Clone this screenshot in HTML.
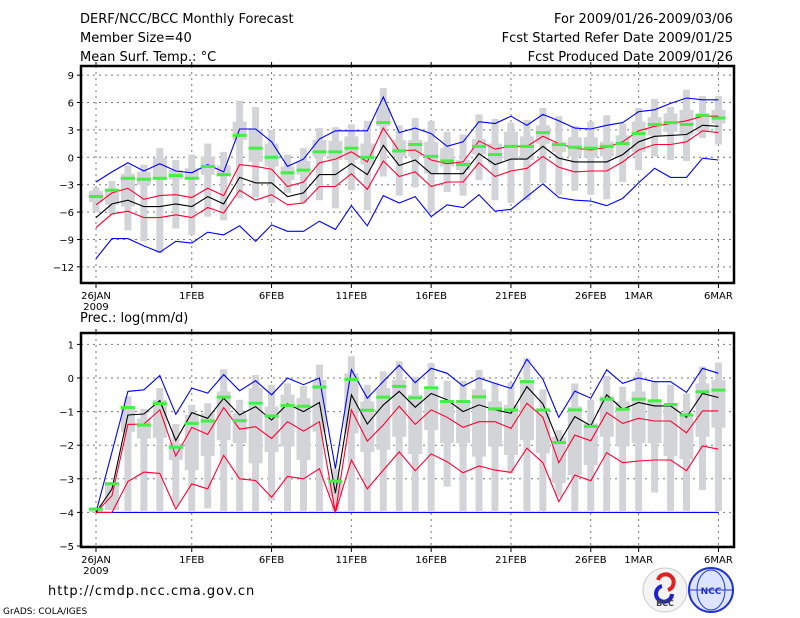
<!DOCTYPE html>
<html><head><meta charset="utf-8">
<style>
html,body{margin:0;padding:0;background:#fff;}
#wrap{position:relative;width:800px;height:618px;overflow:hidden;font-family:"DejaVu Sans","Liberation Sans",sans-serif;}
svg text{font-family:"DejaVu Sans","Liberation Sans",sans-serif;}
</style></head>
<body>
<div id="wrap">
<svg id="chart" width="800" height="618" viewBox="0 0 800 618" xmlns="http://www.w3.org/2000/svg">
<text x="80" y="23" font-size="13">DERF/NCC/BCC Monthly Forecast</text>
<text x="80" y="42" font-size="13">Member Size=40</text>
<text x="80" y="61" font-size="13">Mean Surf. Temp.: °C</text>
<text x="733" y="23" font-size="13" text-anchor="end">For 2009/01/26-2009/03/06</text>
<text x="733" y="42" font-size="13" text-anchor="end">Fcst Started Refer Date 2009/01/25</text>
<text x="733" y="61" font-size="13" text-anchor="end">Fcst Produced Date 2009/01/26</text>
<text x="80" y="322" font-size="13">Prec.: log(mm/d)</text>
<text x="48" y="595" font-size="13" letter-spacing="1">http://cmdp.ncc.cma.gov.cn</text>
<text x="3" y="614" font-size="9">GrADS: COLA/IGES</text>
<g>
<circle cx="665" cy="590" r="22" fill="#f4f4f4" stroke="#ccc"/>
<path d="M658 580 a8 8 0 1 1 10 10" stroke="#d22" stroke-width="4" fill="none"/>
<path d="M672 594 a8 8 0 1 1 -10 -8" stroke="#22c" stroke-width="4" fill="none"/>
<text x="665" y="606" font-size="8" font-weight="bold" text-anchor="middle" fill="#444">BCC</text>
</g>
<g>
<circle cx="711" cy="590" r="22" fill="#dde4ff" stroke="#23c" stroke-width="2"/>
<ellipse cx="711" cy="590" rx="14" ry="20" fill="none" stroke="#23c"/>
<line x1="689" y1="590" x2="733" y2="590" stroke="#23c"/>
<text x="711" y="594" font-size="9" font-weight="bold" text-anchor="middle" fill="#23c">NCC</text>
</g>
</svg>
</div>
<script>
// x axis: days since 26JAN 2009
const dateTicks = [0,6,11,16,21,26,31,34,39];
const dateLabels = ["26JAN","1FEB","6FEB","11FEB","16FEB","21FEB","26FEB","1MAR","6MAR"];

// ---- Temperature panel data ----
const tTicks = [9,6,3,0,-3,-6,-9,-12];
const tBlueUp = [-2.7,-1.6,-0.6,-1.5,-0.7,-1.5,-1.7,-0.8,-1.6,3.1,3.1,1.7,-1.0,-0.2,2.0,2.9,2.9,2.9,6.6,2.7,3.2,2.6,1.2,1.7,3.9,3.7,4.5,3.5,4.7,4.0,3.2,3.1,3.5,3.8,5.0,5.2,5.9,6.5,6.3,6.3];
const tRedUp = [-5.2,-3.9,-3.4,-4.6,-4.2,-4.1,-4.4,-3.4,-4.2,-0.8,-1.0,-1.3,-3.2,-2.7,-0.6,-0.2,0.6,-0.5,3.2,0.7,0.8,-0.3,-0.7,-0.5,1.8,0.9,1.2,1.2,2.3,1.5,1.0,0.8,1.1,1.7,2.9,3.4,3.7,4.0,4.5,4.5];
const tMean = [-6.6,-5.1,-4.7,-5.4,-5.4,-5.1,-5.4,-4.3,-5.1,-2.2,-2.8,-2.8,-4.3,-3.9,-1.9,-1.9,-0.7,-1.9,1.3,-0.9,-0.3,-1.8,-1.8,-1.8,0.4,-0.8,-0.2,-0.2,1.2,-0.1,-0.5,-0.5,-0.5,0.3,1.7,2.3,2.4,2.5,3.5,3.4];
const tRedLo = [-7.7,-6.2,-5.9,-6.6,-6.6,-6.3,-6.6,-5.5,-6.1,-3.6,-4.7,-4.1,-5.2,-5.0,-3.2,-3.2,-1.8,-3.5,-0.4,-2.1,-1.6,-3.2,-2.7,-2.7,-0.6,-2.1,-1.5,-1.2,0.1,-1.1,-1.6,-1.5,-1.5,-0.5,0.8,1.4,1.4,1.7,2.9,2.7];
const tBlueLo = [-11.1,-8.9,-8.9,-9.7,-10.4,-9.2,-9.4,-8.2,-8.5,-7.5,-9.2,-7.4,-8.1,-8.1,-7.0,-7.9,-5.3,-7.5,-4.2,-5.0,-4.3,-6.5,-5.2,-5.5,-4.1,-5.9,-5.7,-4.3,-2.9,-4.4,-4.7,-4.8,-5.3,-4.5,-2.8,-1.2,-2.2,-2.2,-0.1,-0.3];
const tGreen = [-4.3,-3.6,-2.3,-2.4,-2.3,-2.0,-2.3,-1.0,-1.9,2.4,1.0,0.0,-1.7,-1.4,0.6,0.6,1.0,0.0,3.8,0.7,1.4,0.1,-0.4,-0.8,1.2,0.3,1.2,1.2,2.7,1.4,1.1,1.0,1.2,1.5,2.6,3.6,3.8,3.6,4.6,4.3];
const tOutMin = [-6.0,-6.3,-8.0,-9.2,-10.5,-7.8,-8.5,-6.5,-6.9,-4.5,-4.4,-5.0,-3.9,-5.0,-4.7,-5.6,-3.6,-5.8,-2.1,-4.2,-3.3,-5.9,-3.8,-4.2,-2.5,-4.7,-5.0,-4.7,-2.8,-4.1,-3.7,-4.1,-4.6,-2.7,-1.4,0.1,-0.3,-0.4,2.1,1.4];
const tOutMax = [-3.3,-2.6,-0.9,-0.8,1.0,-0.3,0.3,1.5,0.6,6.2,5.5,3.0,0.3,1.0,3.2,3.3,3.6,4.0,7.6,3.5,4.3,4.0,2.8,2.5,4.7,4.2,3.8,4.1,5.4,4.5,3.4,3.9,4.6,3.7,5.4,6.4,5.5,7.4,6.7,6.7];
const tInMin = [-4.9,-5.2,-5.4,-3.0,-2.3,-2.4,-2.4,-1.9,-2.1,1.9,-0.5,-1.0,-2.5,-1.9,0.1,-0.3,-0.3,-0.8,3.4,0.1,0.1,-1.8,-1.0,-1.4,0.3,-0.7,-0.3,-0.3,1.5,0.6,0.1,0.0,0.1,0.1,0.6,2.4,2.8,2.4,2.8,3.7];
const tInMax = [-3.7,-3.5,-1.8,-1.6,-0.1,-1.4,-1.2,0.1,-0.9,3.9,3.0,1.5,-1.0,-0.4,1.9,1.8,2.3,1.5,5.4,1.9,1.9,1.7,1.0,-0.3,2.0,1.5,2.8,2.3,3.5,1.7,2.2,2.2,1.7,2.4,3.9,4.4,4.8,5.2,4.8,5.2];

// ---- Precipitation panel data ----
const pTicks = [1,0,-1,-2,-3,-4,-5];
const pBlueUp = [-4,-2.2,-0.4,-0.35,0.07,-1.08,-0.3,-0.45,0.1,-0.38,-0.08,-0.5,0,-0.2,0,-2.7,0.25,-0.6,-0.1,0.38,-0.14,0.29,0.14,-0.24,0,-0.16,-0.31,0.56,-0.04,-1.17,-0.39,-0.6,0.24,-0.16,0,-0.11,-0.11,-0.43,0.29,0.14];
const pRedUp = [-4,-3.5,-1.38,-1.37,-0.95,-2.32,-1.47,-1.68,-0.88,-1.52,-1.45,-1.8,-1.3,-1.58,-1.3,-4,-0.95,-1.88,-1.4,-0.84,-1.38,-0.95,-1.17,-1.47,-1.3,-1.3,-1.5,-0.75,-1.17,-2.52,-1.7,-1.87,-1.03,-1.35,-1.2,-1.28,-1.28,-1.63,-0.98,-0.98];
const pMean = [-4,-3.3,-1.1,-1.07,-0.67,-1.86,-1.03,-1.2,-0.6,-1.1,-0.85,-1.25,-0.77,-1.0,-0.73,-3.43,-0.5,-1.37,-0.8,-0.4,-0.87,-0.46,-0.65,-1.0,-0.8,-0.95,-1.05,-0.26,-0.77,-1.94,-1.15,-1.42,-0.5,-0.93,-0.73,-0.83,-0.83,-1.17,-0.46,-0.58];
const pRedLo = [-4,-4,-3.08,-2.8,-2.84,-3.9,-3.15,-3.3,-2.3,-3.0,-3.05,-3.55,-2.93,-3.0,-2.7,-4,-2.44,-3.3,-2.74,-2.2,-2.76,-2.26,-2.49,-2.82,-2.62,-2.74,-2.81,-2.09,-2.52,-3.68,-2.89,-3.06,-2.22,-2.52,-2.47,-2.44,-2.44,-2.76,-2.02,-2.12];
const pBlueLo = [-4,-4,-4,-4,-4,-4,-4,-4,-4,-4,-4,-4,-4,-4,-4,-4,-4,-4,-4,-4,-4,-4,-4,-4,-4,-4,-4,-4,-4,-4,-4,-4,-4,-4,-4,-4,-4,-4,-4,-4];
const pGreen = [-3.9,-3.15,-0.88,-1.4,-0.76,-2.06,-1.35,-1.28,-0.57,-1.27,-0.75,-1.13,-0.82,-0.84,-0.27,-3.07,-0.04,-0.96,-0.57,-0.25,-0.59,-0.29,-0.7,-0.7,-0.56,-0.92,-0.95,-0.11,-0.95,-1.92,-0.95,-1.44,-0.63,-0.93,-0.63,-0.68,-0.79,-1.1,-0.41,-0.36];
const pOutMin = [-4,-3.93,-3.96,-3.96,-3.96,-3.8,-3.96,-3.88,-3.96,-3.96,-3.96,-3.65,-3.96,-3.96,-3.96,-3.96,-3.96,-3.96,-3.96,-3.96,-3.96,-3.96,-3.23,-3.96,-3.96,-3.96,-2.84,-3.96,-3.96,-3.53,-3.96,-3.96,-3.96,-3.96,-3.96,-3.41,-3.96,-3.96,-3.33,-3.96];
const pOutMax = [-3.95,-3.1,-0.55,-0.92,-0.3,-1.37,-0.8,-0.75,0.26,-0.65,0.09,-0.2,-0.16,-0.24,0.4,-2.7,0.65,-0.2,0.2,0.5,0.04,0.44,-0.08,-0.08,0.24,-0.14,-0.14,0.58,-0.34,-1.55,-0.16,-0.65,0.06,-0.26,0.19,-0.11,-0.2,-0.46,0.34,0.46];
const pInMin = [-4,-3.93,-1.6,-1.8,-1.78,-2.44,-2.74,-2.32,-1.85,-1.94,-2.54,-2.2,-2.04,-2.44,-1.6,-3.53,-1.65,-2.2,-2.14,-1.75,-2.26,-1.55,-1.94,-1.94,-2.34,-2.04,-2.29,-1.85,-2.24,-3.13,-2.89,-2.59,-1.75,-2.04,-1.94,-1.94,-2.32,-2.42,-1.75,-1.48];
const pInMax = [-3.95,-3.1,-0.83,-1.2,-0.65,-1.94,-1.1,-1.05,-0.4,-1.05,-0.3,-0.85,-0.5,-0.6,-0.06,-3.04,0.14,-0.7,-0.3,-0.06,-0.5,-0.26,-0.65,-0.75,-0.34,-0.7,-0.8,-0.06,-1.05,-1.75,-0.85,-1.35,-0.54,-0.7,-0.4,-0.7,-0.75,-1.1,-0.16,-0.06];

const NS = "http://www.w3.org/2000/svg";
const svg = document.getElementById('chart');
function mk(tag, attrs, parent){
  const e = document.createElementNS(NS, tag);
  for (const k in attrs) e.setAttribute(k, attrs[k]);
  (parent||svg).appendChild(e);
  return e;
}
const X0 = 96, DX = 15.96;
function xScale(d){ return X0 + DX*d; }

function panel(cfg){
  const g = mk('g', {});
  
  
  const yS = v => cfg.y0 + (cfg.v0 - v) * cfg.k;
  cfg.ticks.forEach(t => {
    const y = yS(t);
    const gl = mk('line', {x1:cfg.left, x2:cfg.right, y1:y, y2:y, stroke:'#777', 'stroke-width':1, 'stroke-dasharray':'2,4'}, g);
    
    
    mk('line', {x1:cfg.left-4, x2:cfg.left, y1:y, y2:y, stroke:'#000'}, g);
    const tl = mk('text', {x:cfg.left-7, y:y+4, 'font-size':10, 'text-anchor':'end'}, g);
    tl.textContent = String(t).replace('-', '\u2212');
    
    
  });
  dateTicks.forEach((d,i) => {
    const x = xScale(d);
    const vl = mk('line', {x1:x, x2:x, y1:cfg.top, y2:cfg.bottom, stroke:'#777', 'stroke-width':1, 'stroke-dasharray':'2,4'}, g);
    
    
    mk('line', {x1:x, x2:x, y1:cfg.bottom, y2:cfg.bottom+5, stroke:'#000'}, g);
    mk('line', {x1:x, x2:x, y1:cfg.top, y2:cfg.top-4, stroke:'#000'}, g);
    const tx = mk('text', {x:x, y:cfg.bottom+16, 'font-size':10, 'text-anchor':'middle'}, g);
    tx.textContent = dateLabels[i];
    
    
  });
  const yr = mk('text', {x:xScale(0), y:cfg.bottom+27, 'font-size':10, 'text-anchor':'middle'}, g);
  yr.textContent = '2009';
  
  
  cfg.outMin.forEach((v,i) => {
    const x = xScale(i);
    const ob = mk('rect', {x:x-3.5, width:7, y:yS(cfg.outMax[i]), height:Math.max(1, yS(v)-yS(cfg.outMax[i])), fill:'#d3d4d8'}, g);
    
    
    const ib = mk('rect', {x:x-7, width:14, y:yS(cfg.inMax[i]), height:Math.max(1, yS(cfg.inMin[i])-yS(cfg.inMax[i])), fill:'#d3d4d8'}, g);
    
    
  });
  const series = [[cfg.blueLo,'#0000ff','lower-bound-line'],[cfg.redLo,'#ff0033','lower-quantile-line'],[cfg.blueUp,'#0000ff','upper-bound-line'],[cfg.redUp,'#ff0033','upper-quantile-line'],[cfg.mean,'#000000','ensemble-mean-line']];
  series.forEach(s => {
    const pts = s[0].map((v,i) => xScale(i).toFixed(1)+','+yS(v).toFixed(1)).join(' ');
    const pl = mk('polyline', {points:pts, fill:'none', stroke:s[1], 'stroke-width':1.1}, g);
    
    
  });
  cfg.green.forEach((v,i) => {
    const gm = mk('rect', {x:xScale(i)-7, width:14, y:yS(v)-1.5, height:3, fill:'#44ee44'}, g);
    
    
  });
  const fr = mk('rect', {x:cfg.left, y:cfg.top, width:cfg.right-cfg.left, height:cfg.bottom-cfg.top, fill:'none', stroke:'#000', 'stroke-width':2.5}, g);
  
  
}

panel({name:'temperature-panel', left:81, right:734, top:66, bottom:283, y0:157.3, v0:0, k:9.13, ticks:tTicks,
  blueUp:tBlueUp, redUp:tRedUp, mean:tMean, redLo:tRedLo, blueLo:tBlueLo, green:tGreen,
  outMin:tOutMin, outMax:tOutMax, inMin:tInMin, inMax:tInMax});
panel({name:'precipitation-panel', left:81, right:734, top:333, bottom:547, y0:378, v0:0, k:33.6, ticks:pTicks,
  blueUp:pBlueUp, redUp:pRedUp, mean:pMean, redLo:pRedLo, blueLo:pBlueLo, green:pGreen,
  outMin:pOutMin, outMax:pOutMax, inMin:pInMin, inMax:pInMax});
</script>
</body></html>
